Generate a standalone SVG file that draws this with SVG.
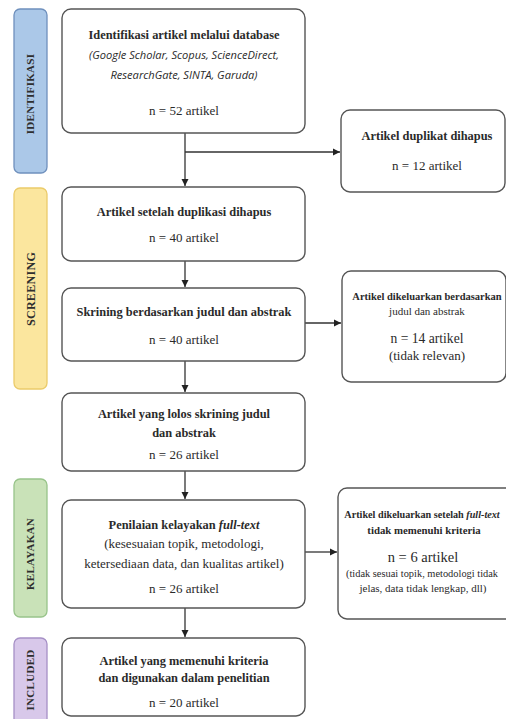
<svg xmlns="http://www.w3.org/2000/svg" width="506" height="719" viewBox="0 0 506 719">
<style>
.box{fill:#ffffff;stroke:#555555;stroke-width:1.4}
.t{font-family:"Liberation Serif","Times New Roman",serif;font-size:13px;fill:#2a2a2a;text-anchor:middle}
.b{font-weight:bold;font-size:12.4px}
.it{font-family:"Open Sans","Liberation Sans",sans-serif;font-style:italic;font-size:11.1px;fill:#2a2a2a;text-anchor:middle}
.ph{font-family:"Liberation Serif","Times New Roman",serif;font-size:11px;font-weight:bold;fill:#2e2e2e;text-anchor:middle;letter-spacing:0.3px}
.c{fill:none;stroke:#333333;stroke-width:1.3}
</style>
<defs>
<marker id="ah" markerWidth="8" markerHeight="8" refX="7" refY="4" orient="auto" markerUnits="userSpaceOnUse">
<path d="M0,0.5 L7,4 L0,7.5 Z" fill="#222222"/>
</marker>
</defs>
<rect width="506" height="719" fill="#ffffff"/>

<g id="phase-identifikasi">
<rect x="14" y="9" width="33" height="164" rx="6" fill="#abc8e8" stroke="#6f90bd" stroke-width="1.3"/>
<text class="ph" transform="translate(34,94) rotate(-90)">IDENTIFIKASI</text>
</g>
<g id="phase-screening">
<rect x="14" y="188" width="33" height="201" rx="6" fill="#fbe69e" stroke="#ebcb6a" stroke-width="1.3"/>
<text class="ph" transform="translate(35,289) rotate(-90)" style="font-size:12px">SCREENING</text>
</g>
<g id="phase-kelayakan">
<rect x="14" y="479" width="33" height="138" rx="6" fill="#c9e2b8" stroke="#98c48a" stroke-width="1.3"/>
<text class="ph" transform="translate(34,554) rotate(-90)">KELAYAKAN</text>
</g>
<g id="phase-included">
<rect x="14" y="638" width="33" height="90" rx="6" fill="#d8c8ea" stroke="#a690c6" stroke-width="1.3"/>
<text class="ph" transform="translate(34,680) rotate(-90)">INCLUDED</text>
</g>

<g id="connectors">
<path class="c" d="M185,133 V186" marker-end="url(#ah)"/>
<path class="c" d="M185,152 H340" marker-end="url(#ah)"/>
<path class="c" d="M185,261 V287" marker-end="url(#ah)"/>
<path class="c" d="M305,323 H341" marker-end="url(#ah)"/>
<path class="c" d="M185,361 V392" marker-end="url(#ah)"/>
<path class="c" d="M185,471 V499" marker-end="url(#ah)"/>
<path class="c" d="M305,552 H337" marker-end="url(#ah)"/>
<path class="c" d="M185,608 V637" marker-end="url(#ah)"/>
</g>

<g id="n1">
<rect class="box" x="62" y="9" width="243" height="124" rx="9"/>
<text class="t b" x="184" y="39">Identifikasi artikel melalui database</text>
<text class="it" x="184" y="59">(Google Scholar, Scopus, ScienceDirect,</text>
<text class="it" x="184" y="79">ResearchGate, SINTA, Garuda)</text>
<text class="t" x="184" y="114.5">n = 52 artikel</text>
</g>
<g id="n-dup">
<rect class="box" x="341" y="110" width="164" height="82" rx="9"/>
<text class="t b" x="427" y="140">Artikel duplikat dihapus</text>
<text class="t" x="427" y="169.5">n = 12 artikel</text>
</g>
<g id="n2">
<rect class="box" x="62" y="187" width="243" height="74" rx="9"/>
<text class="t b" x="184" y="216">Artikel setelah duplikasi dihapus</text>
<text class="t" x="184" y="241.5">n = 40 artikel</text>
</g>
<g id="n3">
<rect class="box" x="62" y="288" width="243" height="73" rx="9"/>
<text class="t b" x="184" y="316">Skrining berdasarkan judul dan abstrak</text>
<text class="t" x="184" y="343.5">n = 40 artikel</text>
</g>
<g id="n-excl1">
<rect class="box" x="342" y="271" width="164" height="111" rx="9"/>
<text class="t b" x="427" y="300" style="font-size:10.5px">Artikel dikeluarkan berdasarkan</text>
<text class="t" x="427" y="315" style="font-size:11px">judul dan abstrak</text>
<text class="t" x="427" y="343" style="font-size:13.6px">n = 14 artikel</text>
<text class="t" x="427" y="359.5" style="font-size:13px">(tidak relevan)</text>
</g>
<g id="n4">
<rect class="box" x="62" y="393" width="243" height="78" rx="9"/>
<text class="t b" x="184" y="417.5">Artikel yang lolos skrining judul</text>
<text class="t b" x="184" y="436.5">dan abstrak</text>
<text class="t" x="184" y="458.5">n = 26 artikel</text>
</g>
<g id="n5">
<rect class="box" x="62" y="500" width="243" height="108" rx="9"/>
<text class="t b" x="184" y="528.5">Penilaian kelayakan <tspan font-style="italic">full-text</tspan></text>
<text class="t" x="184" y="547.5">(kesesuaian topik, metodologi,</text>
<text class="t" x="184" y="567.5">ketersediaan data, dan kualitas artikel)</text>
<text class="t" x="184" y="592.5">n = 26 artikel</text>
</g>
<g id="n-excl2">
<rect class="box" x="338" y="488" width="176" height="131" rx="9"/>
<text class="t b" x="422" y="518" style="font-size:10.2px">Artikel dikeluarkan setelah <tspan font-style="italic">full-text</tspan></text>
<text class="t b" x="424" y="534" style="font-size:10.8px">tidak memenuhi kriteria</text>
<text class="t" x="423" y="562" style="font-size:14.5px">n = 6 artikel</text>
<text class="t" x="422" y="577" style="font-size:10.4px">(tidak sesuai topik, metodologi tidak</text>
<text class="t" x="423" y="592" style="font-size:11px">jelas, data tidak lengkap, dll)</text>
</g>
<g id="n6">
<rect class="box" x="62" y="638" width="243" height="78" rx="9"/>
<text class="t b" x="184" y="664.5">Artikel yang memenuhi kriteria</text>
<text class="t b" x="184" y="681.5">dan digunakan dalam penelitian</text>
<text class="t" x="184" y="706.5">n = 20 artikel</text>
</g>
</svg>
